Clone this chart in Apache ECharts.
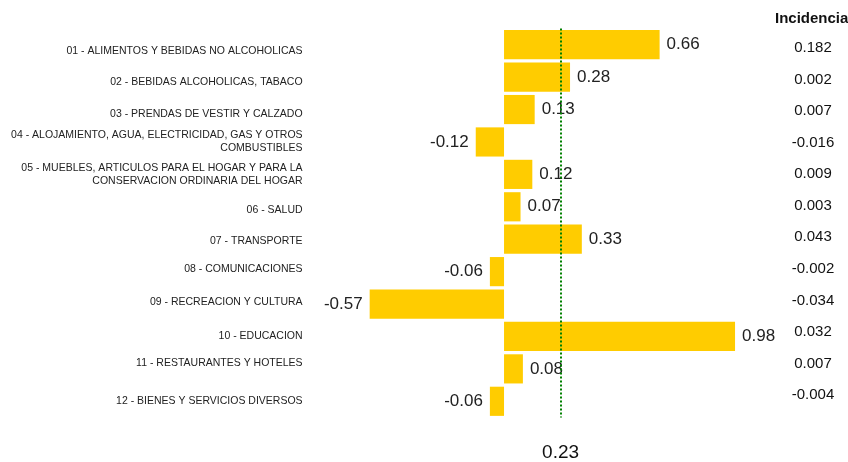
<!DOCTYPE html>
<html><head><meta charset="utf-8">
<script src="https://cdn.jsdelivr.net/npm/echarts@6/dist/echarts.min.js"></script>
<style>html,body{margin:0;padding:0;background:#fff}#c{width:848px;height:462px}</style>
</head><body><div id="c"></div>
<script>
const categories = [
  "01 - ALIMENTOS Y BEBIDAS NO ALCOHOLICAS",
  "02 - BEBIDAS ALCOHOLICAS, TABACO",
  "03 - PRENDAS DE VESTIR Y CALZADO",
  "04 - ALOJAMIENTO, AGUA, ELECTRICIDAD, GAS Y OTROS\nCOMBUSTIBLES",
  "05 - MUEBLES, ARTICULOS PARA EL HOGAR Y PARA LA\nCONSERVACION ORDINARIA DEL HOGAR",
  "06 - SALUD",
  "07 - TRANSPORTE",
  "08 - COMUNICACIONES",
  "09 - RECREACION Y CULTURA",
  "10 - EDUCACION",
  "11 - RESTAURANTES Y HOTELES",
  "12 - BIENES Y SERVICIOS DIVERSOS"
];
const variation = [0.66, 0.28, 0.13, -0.12, 0.12, 0.07, 0.33, -0.06, -0.57, 0.98, 0.08, -0.06];
const incidence = ["0.182", "0.002", "0.007", "-0.016", "0.009", "0.003", "0.043", "-0.002", "-0.034", "0.032", "0.007", "-0.004"];
const incidenceTitle = "Incidencia";
const generalLabel = "0.23";
const generalLinePos = 0.245;

// vertical nudges (px) for single-line category labels, style only
const labelShift = [6, 5, 5, 0, 0, 3, 2, -3, -2, 0, -6, 0];

const chart = echarts.init(document.getElementById('c'));
const font = "'Liberation Sans', Arial, sans-serif";
const catSize = 10.5;
const rich = {};
labelShift.forEach((s, i) => {
  rich['s' + i] = {
    fontSize: catSize, fontFamily: font, color: '#222', align: 'right',
    padding: s >= 0 ? [2 * s, 0, 0, 0] : [0, 0, -2 * s, 0]
  };
});
chart.setOption({
  animation: false,
  textStyle: { fontFamily: font },
  title: {
    text: incidenceTitle, left: 770, top: 6,
    textStyle: { fontSize: 15, fontWeight: 'bold', color: '#111', fontFamily: font }
  },
  grid: [
    { left: 362.6, top: 28.5, width: 424.3, height: 389 },
    { left: 760, top: 32.2, width: 50, height: 378.6 }
  ],
  xAxis: [
    { gridIndex: 0, type: 'value', min: -0.6, max: 1.2, show: false },
    { gridIndex: 1, type: 'value', min: 0, max: 1, show: false }
  ],
  yAxis: [
    {
      gridIndex: 0, type: 'category', data: categories, inverse: true,
      axisLine: { show: false }, axisTick: { show: false }, splitLine: { show: false },
      axisLabel: {
        fontSize: catSize, color: '#222', fontFamily: font, margin: 60, lineHeight: 13, align: 'right',
        formatter: (v, i) => labelShift[i] ? '{s' + i + '|' + v + '}' : v,
        rich: rich
      }
    },
    {
      gridIndex: 1, type: 'category', data: incidence, inverse: true, position: 'right',
      axisLine: { show: false }, axisTick: { show: false }, splitLine: { show: false },
      axisLabel: { fontSize: 15, color: '#111', fontFamily: font, margin: 3, align: 'center' }
    }
  ],
  series: [{
    type: 'bar',
    xAxisIndex: 0, yAxisIndex: 0,
    data: variation.map(v => ({ value: v, label: { position: v < 0 ? 'left' : 'right' } })),
    barCategoryGap: '10%',
    itemStyle: { color: '#FFCC00' },
    label: {
      show: true, fontSize: 17, color: '#222', fontFamily: font, distance: 7,
      formatter: p => p.value.toFixed(2)
    },
    markLine: {
      silent: true, symbol: 'none',
      lineStyle: { color: '#008000', width: 2, type: [2, 2] },
      label: { show: true, position: 'end', formatter: generalLabel, fontSize: 19, color: '#111', fontFamily: font, distance: 26 },
      data: [{ xAxis: generalLinePos }]
    }
  }]
});
</script></body></html>
